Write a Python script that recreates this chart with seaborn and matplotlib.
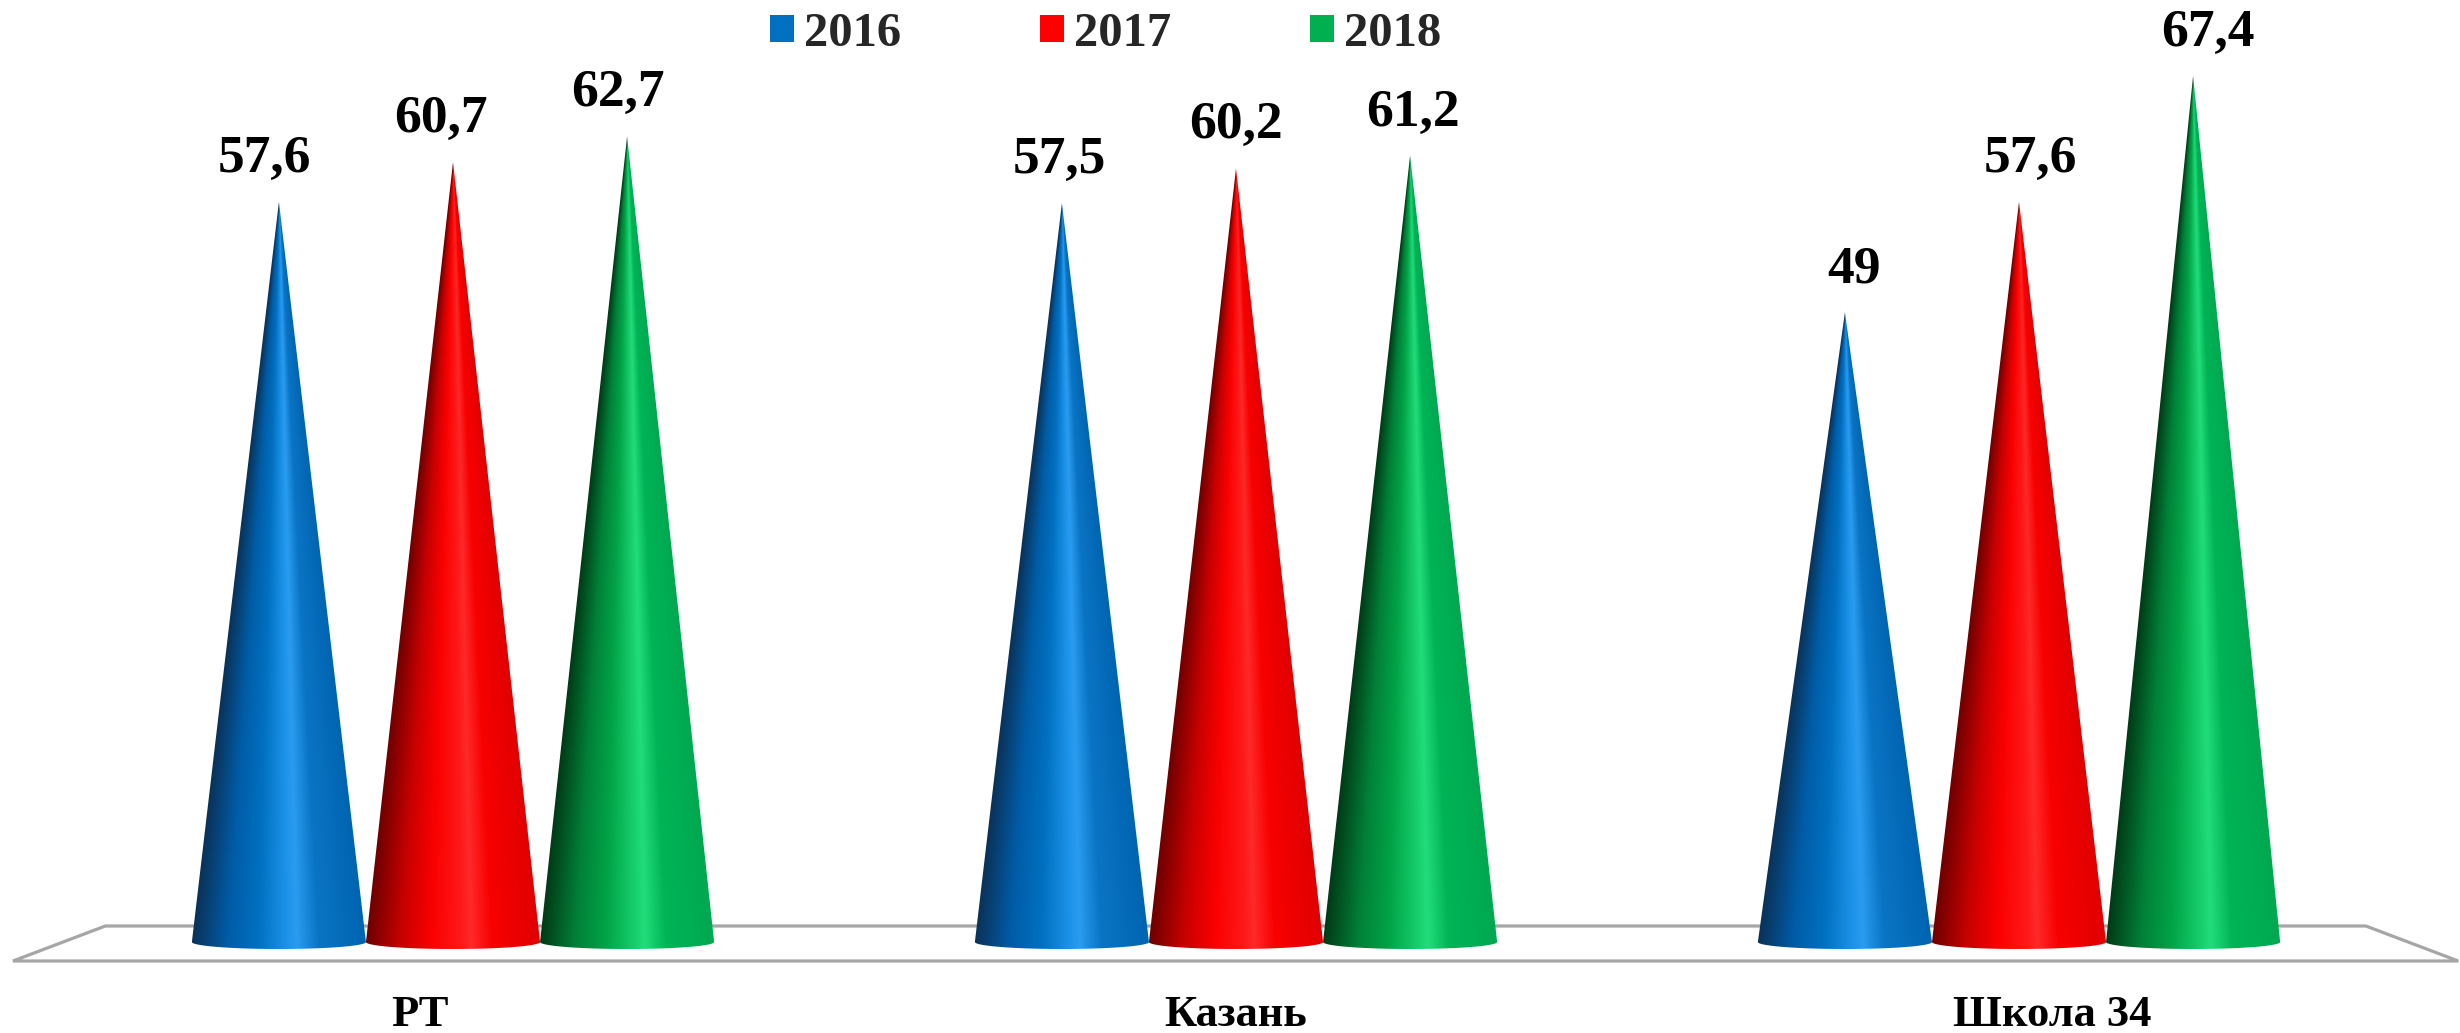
import numpy as np
import pandas as pd
import matplotlib
matplotlib.use("Agg")
import matplotlib.pyplot as plt
import seaborn as sns
from matplotlib.patches import Polygon, Patch
from matplotlib.colors import to_rgb

# ---------------- data ----------------
categories = ["РТ", "Казань", "Школа 34"]
years = ["2016", "2017", "2018"]
values_2016 = [57.6, 57.5, 49.0]
values_2017 = [60.7, 60.2, 57.6]
values_2018 = [62.7, 61.2, 67.4]

palette = {"2016": "#0070C0", "2017": "#FF0000", "2018": "#00B050"}
# shading stops across each cone (-1 = left edge, 1 = right edge)
shade_pos = [-1.0, -0.6, -0.25, 0.1, 0.2, 0.45, 1.0]
shades = {
    "2016": ["#0A3258", "#005CA6", "#0070C0", "#1E94EA", "#2A9CF0", "#0A74C4", "#0064B0"],
    "2017": ["#6E0000", "#C80000", "#FA0000", "#FF1A1A", "#FF2A2A", "#F80000", "#E00000"],
    "2018": ["#003A16", "#008038", "#00A447", "#18D06E", "#22DC7A", "#00B456", "#00A850"],
}

df = pd.DataFrame({
    "category": categories * 3,
    "year": [y for y in years for _ in categories],
    "value": values_2016 + values_2017 + values_2018,
})

# ---------------- figure ----------------
sns.set_style("white")
plt.rcParams["font.family"] = ["Liberation Serif", "DejaVu Serif"]
plt.rcParams["font.weight"] = "bold"

W, H, DPI = 2460, 1033, 100
fig = plt.figure(figsize=(W / DPI, H / DPI), dpi=DPI)
ax = fig.add_axes([0, 0, 1, 1])

sns.barplot(data=df, x="category", y="value", hue="year", order=categories,
            hue_order=years, palette=palette, width=0.667, legend=False, ax=ax)

# axis scale: 1 category = 783 px, 1 unit = 12.85 px, zero at 942 px from top
px_x, px_y = 783.0, 12.85
x0_px, y0_px = 453.0, 942.0
xlim = (-x0_px / px_x, (W - x0_px) / px_x)
ylim = (-(H - y0_px) / px_y, y0_px / px_y)

depth = 7.0 / px_y  # base ellipse depth

# floor
fl_front, fl_back = -19.0 / px_y, 16.0 / px_y
floor = Polygon([(-0.562, fl_front), (-0.444, fl_back), (2.443, fl_back), (2.561, fl_front)],
                closed=True, facecolor="white", edgecolor="#A6A6A6", linewidth=2.3,
                joinstyle="miter", zorder=1)
ax.add_patch(floor)

for year, cont in zip(years, ax.containers):
    cols = np.array([to_rgb(c) for c in shades[year]])
    for bar in cont:
        bx, bw, bh = bar.get_x(), bar.get_width(), bar.get_height()
        bar.set_visible(False)
        xc, hw = bx + bw / 2, bw / 2
        th = np.linspace(0, np.pi, 60)
        arc = np.column_stack([xc + hw * np.cos(th), -depth * np.sin(th)])
        verts = np.vstack([[(bx, 0), (xc, bh)], arc])
        clip = Polygon(verts, closed=True, facecolor="none", edgecolor="none", zorder=2)
        ax.add_patch(clip)
        nx, ny = 240, 500
        xs = np.linspace(bx, bx + bw, nx)
        ys = np.linspace(-depth, bh, ny)
        X, Y = np.meshgrid(xs, ys)
        frac = np.clip(1 - np.clip(Y, 0, None) / bh, 1e-3, None)
        t = np.clip((X - xc) / (hw * frac), -1, 1)
        img = np.stack([np.interp(t, shade_pos, cols[:, k]) for k in range(3)], axis=-1)
        im = ax.imshow(img, extent=(bx, bx + bw, -depth, bh), origin="lower",
                       aspect="auto", interpolation="bilinear", zorder=2)
        im.set_clip_path(clip)
        label = f"{bh:g}".replace(".", ",")
        ax.text(1 + (xc - 1) * 1.015, bh + 30 / px_y, label, ha="center", va="baseline",
                fontsize=38.5, fontweight="bold", color="black", zorder=3)

for i, cat in enumerate(categories):
    ax.text(1 + (i - 1) * 1.042, -84 / px_y, cat, ha="center", va="baseline",
            fontsize=32, fontweight="bold", color="black")

handles = [Patch(facecolor=palette[y], edgecolor="none") for y in years]
leg = ax.legend(handles, years, loc="upper left", bbox_to_anchor=(770 / W, 1 - 12 / H),
                bbox_transform=fig.transFigure, ncol=3, frameon=False,
                prop={"family": "Liberation Serif", "weight": "bold", "size": 35},
                handlelength=0.5, handleheight=0.47, handletextpad=0.2,
                columnspacing=2.85, borderpad=0, borderaxespad=0)

ax.set_xlim(*xlim)
ax.set_ylim(*ylim)
ax.axis("off")

fig.savefig("out.png", dpi=DPI, facecolor="white")
